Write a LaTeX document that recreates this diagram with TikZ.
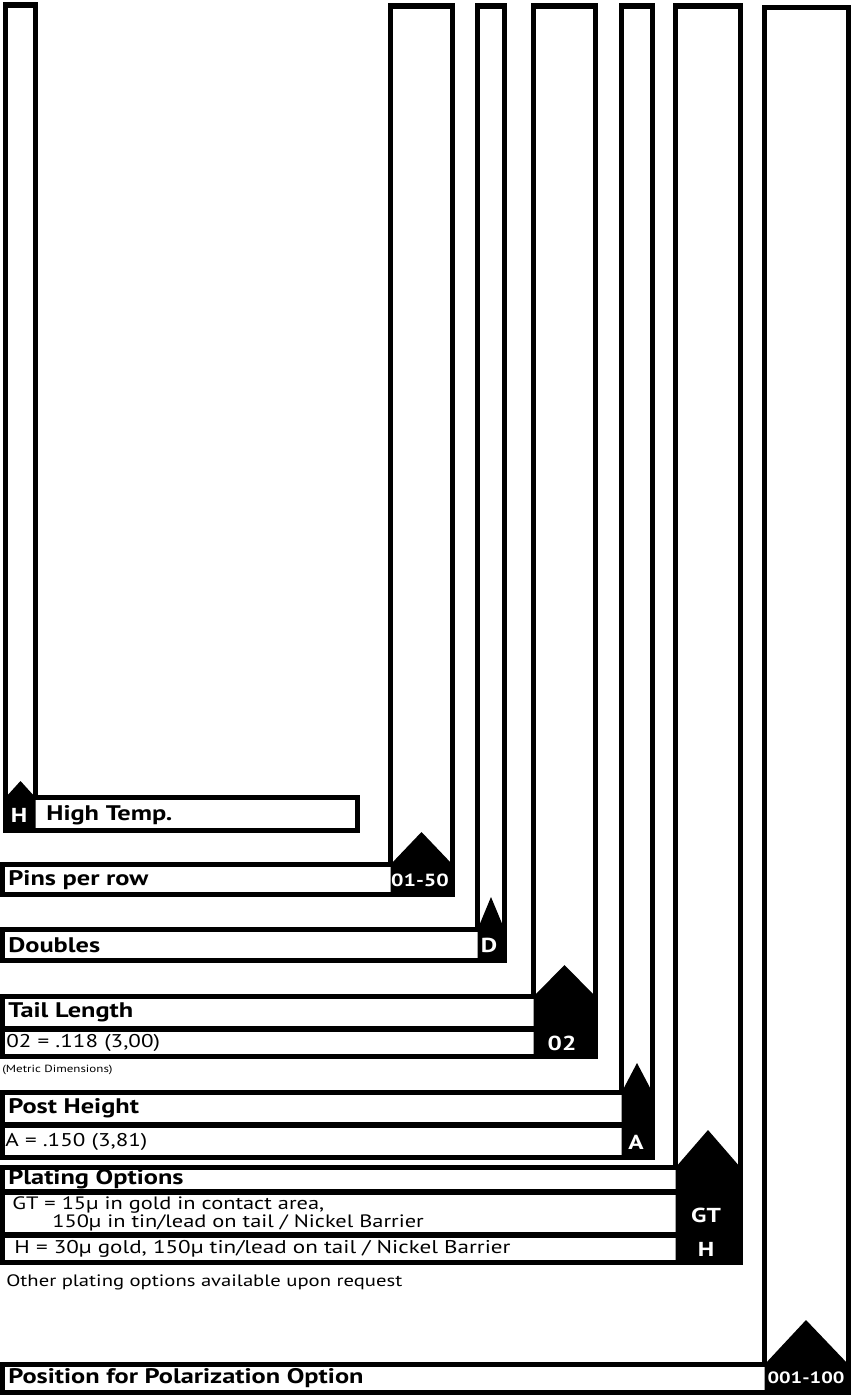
\documentclass[tikz,border=0pt]{standalone}
\usepackage{fontspec}
\setmainfont{PT Sans}[FakeStretch=1.25]
\usepackage{tikz}
\usetikzlibrary{positioning}

\begin{document}
\begin{tikzpicture}[
        x=0.2mm, y=-0.2mm,
        font=\fontsize{10.5}{12}\selectfont,
        frame/.style={draw=black, line width=1.1mm, line join=miter},
        tag/.style={fill=black},
        ttl/.style={font=\fontsize{12}{14}\selectfont\bfseries, anchor=west, inner sep=0pt},
        val/.style={anchor=west, inner sep=0pt},
        code/.style={text=white, font=\fontsize{11.5}{13}\selectfont\bfseries, inner sep=0pt}
    ]
    \useasboundingbox (0,0) rectangle (851,1396);

    % ---- High Temp. ----
    \draw[frame] (5.5,5) -- (35.5,5) -- (35.5,797.5) -- (357.5,797.5) -- (357.5,830.5) -- (5.5,830.5) -- cycle;
    \fill[tag] (5.5,830.5) -- (5.5,797.5) -- (20.5,781) -- (35.5,797.5) -- (35.5,830.5) -- cycle;
    \node[code] (htcode) at (19,815) {H};
    \node[ttl] (httl) at (46,815) {High Temp.};

    % ---- Pins per row ----
    \draw[frame] (390.5,6) -- (452.5,6) -- (452.5,894.5) -- (2.5,894.5) -- (2.5,864.5) -- (390.5,864.5) -- cycle;
    \fill[tag] (390.5,894.5) -- (390.5,864.5) -- (421.5,832) -- (452.5,864.5) -- (452.5,894.5) -- cycle;
    \node[code, font=\fontsize{10}{12}\selectfont\bfseries] (pincode) at (420,880) {01-50};
    \node[ttl] (pinttl) at (8,880) {Pins per row};

    % ---- Doubles ----
    \draw[frame] (477.5,6) -- (504.5,6) -- (504.5,960.5) -- (2.5,960.5) -- (2.5,929.5) -- (477.5,929.5) -- cycle;
    \fill[tag] (477.5,960.5) -- (477.5,929.5) -- (491,897) -- (504.5,929.5) -- (504.5,960.5) -- cycle;
    \node[code] (dblcode) at (489,945) {D};
    \node[ttl] (dblttl) at (8,945) {Doubles};

    % ---- Tail Length ----
    \draw[frame] (533.5,6) -- (595.5,6) -- (595.5,1056.5) -- (2.5,1056.5) -- (2.5,996.5) -- (533.5,996.5) -- cycle;
    \draw[frame] (2.5,1029) -- (533.5,1029);
    \fill[tag] (533.5,1056.5) -- (533.5,996.5) -- (564.5,965) -- (595.5,996.5) -- (595.5,1056.5) -- cycle;
    \node[code] (tailcode) at (562,1043) {02};
    \node[ttl] (tailttl) at (8,1012) {Tail Length};
    \node[val] (tailval) at (6,1043) {02 = .118 (3,00)};
    \node[val, font=\fontsize{5.9}{7}\selectfont] (metric) at (2,1070) {(Metric Dimensions)};

    % ---- Post Height ----
    \draw[frame] (621.5,6) -- (652.5,6) -- (652.5,1157.5) -- (2.5,1157.5) -- (2.5,1092.5) -- (621.5,1092.5) -- cycle;
    \draw[frame] (2.5,1125) -- (621.5,1125);
    \fill[tag] (621.5,1157.5) -- (621.5,1092.5) -- (637,1063) -- (652.5,1092.5) -- (652.5,1157.5) -- cycle;
    \node[code] (postcode) at (636,1142) {A};
    \node[ttl] (postttl) at (8,1108) {Post Height};
    \node[val] (postval) at (5,1142) {A = .150 (3,81)};

    % ---- Plating Options ----
    \draw[frame] (675.5,6) -- (740.5,6) -- (740.5,1262.5) -- (2.5,1262.5) -- (2.5,1167.5) -- (675.5,1167.5) -- cycle;
    \draw[frame] (2.5,1192) -- (675.5,1192);
    \draw[frame] (2.5,1235) -- (675.5,1235);
    \fill[tag] (675.5,1262.5) -- (675.5,1167.5) -- (708,1130) -- (740.5,1167.5) -- (740.5,1262.5) -- cycle;
    \node[code] (gtcode) at (706,1215) {GT};
    \node[code] (hcode) at (706,1249) {H};
    \node[ttl] (platttl) at (8,1179.5) {Plating Options};
    \node[val, align=left, font=\fontsize{10.2}{9.4}\selectfont] (gtval) at (12,1214) {GT = 15µ in gold in contact area,\\\hspace*{8mm}150µ in tin/lead on tail / Nickel Barrier};
    \node[val] (hval) at (14,1249) {H = 30µ gold, 150µ tin/lead on tail / Nickel Barrier};
    \node[val, font=\fontsize{9.4}{11}\selectfont] (other) at (6,1282) {Other plating options available upon request};

    % ---- Position for Polarization Option ----
    \draw[frame] (764.5,7.5) -- (848.5,7.5) -- (848.5,1392.5) -- (2.5,1392.5) -- (2.5,1364.5) -- (764.5,1364.5) -- cycle;
    \fill[tag] (764.5,1392.5) -- (764.5,1364.5) -- (806,1320) -- (848.5,1364.5) -- (848.5,1392.5) -- cycle;
    \node[code, font=\fontsize{9.3}{11}\selectfont\bfseries] (polcode) at (806,1378) {001-100};
    \node[ttl] (polttl) at (8,1378) {Position for Polarization Option};
\end{tikzpicture}
\end{document}
